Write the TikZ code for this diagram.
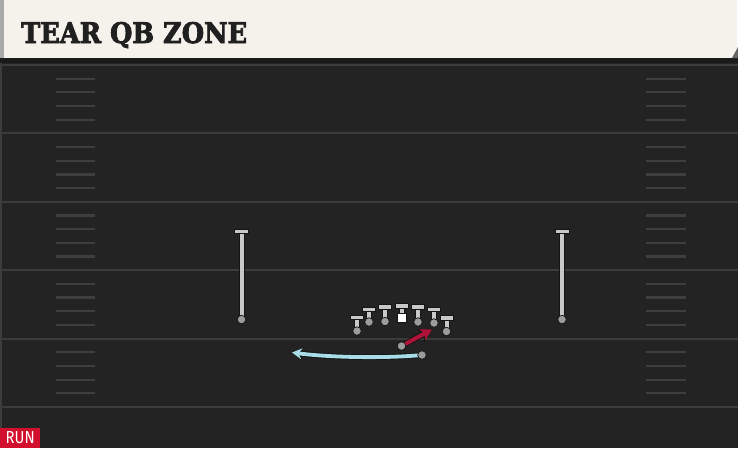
\documentclass[tikz,border=0pt]{standalone}
\usepackage{fontspec}
\usepackage{graphicx}
\usetikzlibrary{arrows.meta,calc}
\newfontfamily\titlefont{DejaVu Serif}[BoldFeatures={FakeBold=3}]
\newfontfamily\runfont{Fira Sans}
\definecolor{fieldbg}{HTML}{232323}
\definecolor{yardline}{HTML}{3C3C3C}
\definecolor{hashc}{HTML}{3E3E3E}
\definecolor{cream}{HTML}{F4F2EB}
\definecolor{headbar}{HTML}{A8A8A8}
\definecolor{darkband}{HTML}{1A1A1A}
\definecolor{stemgray}{HTML}{C8C8C8}
\definecolor{dotgray}{HTML}{9C9C9C}
\definecolor{outl}{HTML}{141414}
\definecolor{routered}{HTML}{AE143A}
\definecolor{routeblue}{HTML}{A8DDE8}
\definecolor{runred}{HTML}{D20F2D}
\definecolor{titleink}{HTML}{202020}
\tikzset{
  yard/.style={draw=yardline, line width=2pt},
  hashmark/.style={draw=hashc, line width=2.2pt},
  stem/.style={draw=stemgray, line width=4pt, preaction={draw=outl, line width=6pt}},
  tbar/.style={draw=outl, fill=stemgray, line width=1pt, minimum width=13pt, minimum height=4.6pt, inner sep=0pt, rectangle},
  player/.style={circle, fill=dotgray, draw=outl, line width=0.7pt, minimum size=8.5pt, inner sep=0pt},
  cbox/.style={rectangle, fill=white, draw=outl, line width=0.6pt, minimum size=9pt, inner sep=0pt},
  redroute/.style={draw=routered, line width=4pt, -{Stealth[length=11pt,width=12pt,inset=2.5pt]},
     preaction={draw=outl, line width=6pt, -{Stealth[length=12.5pt,width=14pt,inset=2.5pt]}}},
  blueroute/.style={draw=routeblue, line width=3.8pt, -{Stealth[length=10pt,width=11pt,inset=3.5pt]},
     preaction={draw=outl, line width=5.6pt, -{Stealth[length=11.5pt,width=13pt,inset=3.5pt]}}},
  runbox/.style={fill=runred, text=white, minimum width=40pt, minimum height=20pt, inner sep=0pt, anchor=south west},
}
\begin{document}
\begin{tikzpicture}[x=1pt,y=-1pt]
\useasboundingbox (0,0) rectangle (738,448);
% field
\fill[fieldbg] (0,58) rectangle (738,448);
\fill[darkband] (0,58) rectangle (738,63);
\draw[draw=yardline, line width=2pt] (1,63) -- (1,448);
% header
\fill[cream] (0,0) rectangle (737,58);
\fill[headbar] (0,0) rectangle (4,58);
\fill[headbar!60!black] (732,58) -- (738,58) -- (738,47) -- cycle;
\node[anchor=base west, inner sep=0pt, text=titleink] (title) at (21,43)
  {\resizebox{226pt}{21pt}{\titlefont\bfseries TEAR QB ZONE}};
% yard lines and hashes
\foreach \k in {0,1,2,3,4,5}{
  \draw[yard] (0,65+68.4*\k) -- (738,65+68.4*\k);
}
\foreach \k in {0,1,2,3,4}{
  \foreach \j in {1,2,3,4}{
    \draw[hashmark] (56,65+68.4*\k+13.68*\j) -- (95,65+68.4*\k+13.68*\j);
    \draw[hashmark] (646,65+68.4*\k+13.68*\j) -- (686,65+68.4*\k+13.68*\j);
  }
}
% player positions
\coordinate (wrlT) at (241.5,231.5);
\coordinate (wrrT) at (562,231.5);
\coordinate (p1T) at (357,317.5);
\coordinate (p2T) at (369,309.5);
\coordinate (p3T) at (385,307);
\coordinate (p4T) at (401.5,306);
\coordinate (p5T) at (418,307);
\coordinate (p6T) at (434,309.5);
\coordinate (p7T) at (446.5,318);
\coordinate (wrlP) at (241.5,319.5);
\coordinate (wrrP) at (562,319.5);
\coordinate (p1P) at (357,331);
\coordinate (p2P) at (369,322);
\coordinate (p3P) at (385,321.5);
\coordinate (p4P) at (401.5,318);
\coordinate (p5P) at (418,322);
\coordinate (p6P) at (434,323);
\coordinate (p7P) at (446.5,331.5);
% stems
\foreach \p in {wrl,wrr,p1,p2,p3,p4,p5,p6,p7}{
  \draw[stem] (\p P) -- (\p T);
}
% T bars
\foreach \p in {p1,p2,p3,p4,p5,p6,p7}{
  \node[tbar] (\p bar) at (\p T) {};
}
\node[tbar, minimum width=14pt] (wrlbar) at (wrlT) {};
\node[tbar, minimum width=14pt] (wrrbar) at (wrrT) {};
% players
\foreach \p in {wrl,wrr,p1,p2,p3,p5,p6,p7}{
  \node[player] (\p) at (\p P) {};
}
\node[cbox] (p4) at (p4P) {};
% backs
\coordinate (qbtip) at (432,329.5);
\coordinate (rbtip) at (292,352.5);
\node[player] (qb) at (401.5,346) {};
\node[player] (rb) at (422,355) {};
\draw[blueroute] (rb.center) .. controls (385,358.5) and (330,357.5) .. (rbtip);
\draw[redroute] (qb.center) -- (qbtip);
\node[player] (qbdot) at (401.5,346) {};
\node[player] (rbdot) at (422,355) {};
% RUN tag
\node[runbox] (run) at (0,448) {\resizebox{29pt}{12pt}{\runfont RUN}};
\end{tikzpicture}
\end{document}
